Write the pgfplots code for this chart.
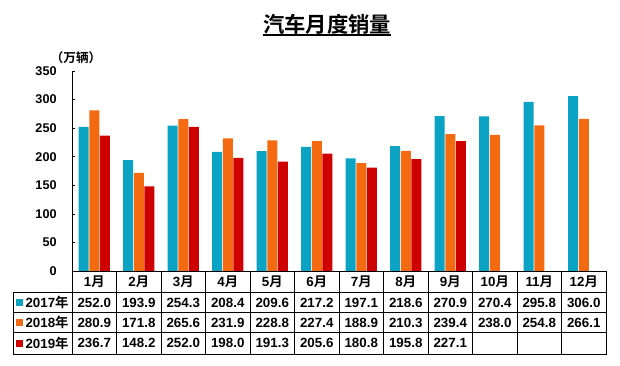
\documentclass[border=0pt]{standalone}
\usepackage{pgfplots}
\pgfplotsset{compat=1.18}
\usepackage{pgfplotstable}
\usepackage{fontspec}
\setmainfont{Liberation Sans}
\newfontfamily\cjk{Noto Sans CJK SC}[BoldFont={Noto Sans CJK SC Bold}]
\newcommand\Yue{{\cjk 月}}
\newcommand\Nian{{\cjk 年}}
\definecolor{cA}{HTML}{0BA3C4}
\definecolor{cB}{HTML}{F46A10}
\definecolor{cC}{HTML}{CF0000}

\pgfplotstableread{
m v
1 252.0
2 193.9
3 254.3
4 208.4
5 209.6
6 217.2
7 197.1
8 218.6
9 270.9
10 270.4
11 295.8
12 306.0
}\dA
\pgfplotstableread{
m v
1 280.9
2 171.8
3 265.6
4 231.9
5 228.8
6 227.4
7 188.9
8 210.3
9 239.4
10 238.0
11 254.8
12 266.1
}\dB
\pgfplotstableread{
m v
1 236.7
2 148.2
3 252.0
4 198.0
5 191.3
6 205.6
7 180.8
8 195.8
9 227.1
}\dC

\begin{document}
\begin{tikzpicture}
\path[use as bounding box] (0,0) rectangle (465pt,274.5pt);
\node[inner sep=0pt] (t) at (245.25pt,256.5pt) {\fontsize{16}{18}\selectfont\cjk\bfseries 汽车月度销量};
\draw[line width=1.3pt] ([yshift=-0.6pt]t.south west) -- ([yshift=-0.6pt]t.south east);
\node at (57pt,231pt) {\fontsize{9.5}{10}\selectfont\cjk\bfseries （万辆）};
\begin{axis}[
  at={(54pt,71.25pt)}, anchor=south west,
  scale only axis, width=400.5pt, height=150pt,
  xmin=0.5, xmax=12.5, ymin=0, ymax=350,
  clip=false,
  axis x line=bottom, axis y line=left,
  axis line style={-, black, line width=0.6pt},
  ytick={0,50,...,350},
  xtick={1,...,12},
  xticklabels={1\Yue,2\Yue,3\Yue,4\Yue,5\Yue,6\Yue,7\Yue,8\Yue,9\Yue,10\Yue,11\Yue,12\Yue},
  x tick style={draw=none},
  major tick length=2.5pt,
  y tick style={black, line width=0.5pt},
  tick align=inside,
  /pgf/number format/assume math mode=true,
  yticklabel style={font=\bfseries\fontsize{9.5}{11}\selectfont, xshift=-8pt},
  xticklabel style={font=\bfseries\fontsize{10}{12}\selectfont, anchor=center, yshift=-8.25pt},
  nodes near coords style={anchor=center, text=black, font=\bfseries\fontsize{10}{12}\selectfont},
]
\addplot[ybar, bar width=7.5pt, bar shift=-8pt, fill=cA, draw=none] table[x=m, y=v] {\dA};
\addplot[ybar, bar width=7.5pt, bar shift=0pt, fill=cB, draw=none] table[x=m, y=v] {\dB};
\addplot[ybar, bar width=7.5pt, bar shift=8pt, fill=cC, draw=none] table[x=m, y=v] {\dC};

% table values
\addplot[draw=none, mark=none, forget plot, nodes near coords, point meta=explicit symbolic] table[x=m, y expr=-55.1, meta=v] {\dA};
\addplot[draw=none, mark=none, forget plot, nodes near coords, point meta=explicit symbolic] table[x=m, y expr=-90.1, meta=v] {\dB};
\addplot[draw=none, mark=none, forget plot, nodes near coords, point meta=explicit symbolic] table[x=m, y expr=-126, meta=v] {\dC};

% legend keys
\addplot[only marks, mark=square*, mark size=2.2pt, color=cA, forget plot] coordinates {(-0.68,-55.1)};
\addplot[only marks, mark=square*, mark size=2.2pt, color=cB, forget plot] coordinates {(-0.68,-90.1)};
\addplot[only marks, mark=square*, mark size=2.2pt, color=cC, forget plot] coordinates {(-0.68,-126)};
\node[anchor=center, font=\bfseries\fontsize{10}{12}\selectfont] at (axis cs:-0.06,-55.1) {2017\Nian};
\node[anchor=center, font=\bfseries\fontsize{10}{12}\selectfont] at (axis cs:-0.06,-90.1) {2018\Nian};
\node[anchor=center, font=\bfseries\fontsize{10}{12}\selectfont] at (axis cs:-0.06,-126) {2019\Nian};

% grid of the table
\draw[line width=0.6pt] (axis cs:-0.826,-37.6) rectangle (axis cs:12.5,-145.3);
\draw[line width=0.6pt] (axis cs:-0.826,-72.6) -- (axis cs:12.5,-72.6);
\draw[line width=0.6pt] (axis cs:-0.826,-107.6) -- (axis cs:12.5,-107.6);
\pgfplotsinvokeforeach{0.5,1.5,...,12.5}{\draw[line width=0.6pt] (axis cs:#1,0) -- (axis cs:#1,-145.3);}
\end{axis}
\end{tikzpicture}
\end{document}
